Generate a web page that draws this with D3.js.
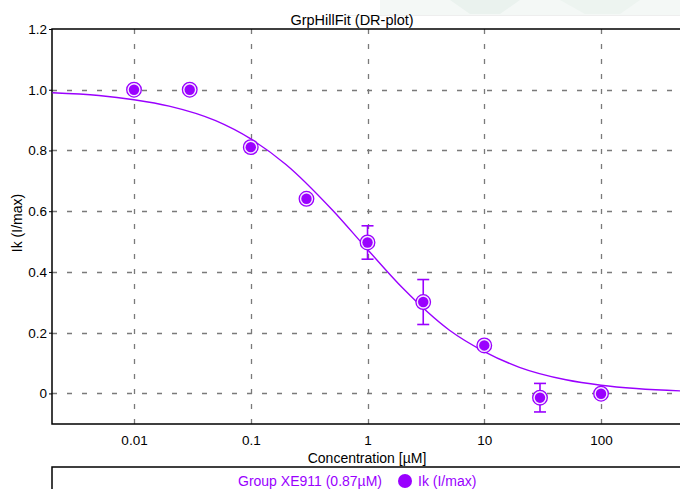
<!DOCTYPE html>
<html><head><meta charset="utf-8">
<script src="https://cdn.jsdelivr.net/npm/d3@7/dist/d3.min.js"></script>
<style>
html,body{margin:0;padding:0;background:#fff;overflow:hidden;}
svg{display:block;font-family:"Liberation Sans",Arial,sans-serif;}
</style></head>
<body>
<svg id="chart" width="680" height="489"></svg>
<script>
// ---- data ----
const title = "GrpHillFit (DR-plot)";
const xLabel = "Concentration [\u00b5M]";
const yLabel = "Ik (I/max)";
const legendGroup = "Group XE911 (0.87\u00b5M)";
const legendSeries = "Ik (I/max)";
const concentrations = [0.01, 0.03, 0.1, 0.3, 1, 3, 10, 30, 100];
const ikValues = [1.0, 1.0, 0.811, 0.641, 0.497, 0.301, 0.158, -0.014, -0.001];
const ikErrors = [0, 0, 0.015, 0, 0.055, 0.074, 0, 0.047, 0];
// fitted curve
const fitX = [0.002, 0.005, 0.01, 0.02, 0.05, 0.1, 0.2, 0.5, 1, 2, 5, 10, 20, 50, 100, 200, 500, 1000];
const fitY = [0.990, 0.981, 0.967, 0.946, 0.898, 0.838, 0.754, 0.604, 0.474, 0.347, 0.209, 0.138, 0.086, 0.045, 0.027, 0.016, 0.008, 0.005];
const xTicks = [0.01, 0.1, 1, 10, 100];
const xTickLabels = ["0.01", "0.1", "1", "10", "100"];
const yTicks = [0, 0.2, 0.4, 0.6, 0.8, 1.0, 1.2];
const yTickLabels = ["0", "0.2", "0.4", "0.6", "0.8", "1.0", "1.2"];

(function () {
const purple = "#9a00ff";
const svg = d3.select("#chart");

// faint background watermark at top right
svg.append("rect").attr("x", 380).attr("y", 0).attr("width", 300).attr("height", 15).attr("fill", "#f4f8f6");
svg.append("path").attr("d", "M450,0 L520,0 L500,14 L470,14 Z").attr("fill", "#eaf2ee");
svg.append("path").attr("d", "M560,0 L640,0 L620,14 L585,14 Z").attr("fill", "#edf4f0");
svg.append("line").attr("x1", 340).attr("x2", 680).attr("y1", 15.5).attr("y2", 15.5).attr("stroke", "#eeeeee");

const x = d3.scaleLog().domain([0.002, 1000]).range([52.4, 717.8]);
const y = d3.scaleLinear().domain([-0.1, 1.2]).range([423.8, 29]);
const pL = 52, pT = 29, pB = 424, pR = 720;

// grid
const grid = svg.append("g").attr("stroke", "#7a7a7a").attr("stroke-width", 1.3).attr("stroke-dasharray", "5,10");
grid.selectAll("line.v").data(xTicks).join("line")
  .attr("x1", d => Math.round(x(d)) + 0.5).attr("x2", d => Math.round(x(d)) + 0.5)
  .attr("y1", pT).attr("y2", pB);
grid.selectAll("line.h").data(yTicks.filter(d => d < 1.2)).join("line")
  .attr("x1", pL).attr("x2", pR)
  .attr("y1", d => Math.round(y(d)) + 0.5).attr("y2", d => Math.round(y(d)) + 0.5);

// axes frame
svg.append("path").attr("d", `M${pR},${pT} H${pL} V${pB} H${pR}`)
  .attr("fill", "none").attr("stroke", "#000").attr("stroke-width", 1.5);

// y axis via d3 axis
const yAxis = d3.axisLeft(y).tickValues(yTicks).tickSize(3).tickPadding(2)
  .tickFormat((d, i) => yTickLabels[i]);
const gy = svg.append("g").attr("transform", `translate(${pL},0)`).call(yAxis);
gy.select(".domain").remove();
gy.selectAll("text").attr("font-size", 13.5).attr("fill", "#000").attr("font-family", "Liberation Sans, Arial, sans-serif");
gy.selectAll("line").attr("stroke", "#000");

// x axis labels via d3 axis
const xAxis = d3.axisBottom(x).tickValues(xTicks).tickSize(0).tickPadding(11)
  .tickFormat((d, i) => xTickLabels[i]);
const gx = svg.append("g").attr("transform", `translate(0,${pB})`).call(xAxis);
gx.select(".domain").remove();
gx.selectAll("text").attr("font-size", 13.5).attr("fill", "#000").attr("font-family", "Liberation Sans, Arial, sans-serif");

// titles
svg.append("text").attr("x", 352).attr("y", 25).attr("text-anchor", "middle")
  .attr("font-size", 14.5).text(title);
svg.append("text").attr("x", 367).attr("y", 463).attr("text-anchor", "middle")
  .attr("font-size", 14).text(xLabel);
svg.append("text").attr("transform", "translate(22,223) rotate(-90)").attr("text-anchor", "middle")
  .attr("font-size", 14).text(yLabel);

// clip
svg.append("clipPath").attr("id", "clip").append("rect")
  .attr("x", pL).attr("y", pT).attr("width", pR - pL).attr("height", pB - pT);

// fit curve
const line = d3.line().x((d, i) => x(fitX[i])).y(d => y(d)).curve(d3.curveMonotoneX);
svg.append("path").datum(fitY).attr("d", line).attr("fill", "none")
  .attr("stroke", purple).attr("stroke-width", 1.4).attr("clip-path", "url(#clip)");

// error bars
const pts = concentrations.map((c, i) => ({c, v: ikValues[i], e: ikErrors[i]}));
const eb = svg.append("g").attr("stroke", purple).attr("stroke-width", 1.6);
pts.filter(d => d.e > 0).forEach(d => {
  const cx = x(d.c), y1 = y(d.v + d.e), y2 = y(d.v - d.e);
  eb.append("line").attr("x1", cx).attr("x2", cx).attr("y1", y1).attr("y2", y2);
  eb.append("line").attr("x1", cx - 6).attr("x2", cx + 6).attr("y1", y1).attr("y2", y1);
  eb.append("line").attr("x1", cx - 6).attr("x2", cx + 6).attr("y1", y2).attr("y2", y2);
});

// markers
const mk = svg.append("g");
mk.selectAll("circle.o").data(pts).join("circle")
  .attr("cx", d => x(d.c)).attr("cy", d => y(d.v)).attr("r", 7.3)
  .attr("fill", "#f6e8ff").attr("stroke", purple).attr("stroke-width", 1.3);
mk.selectAll("circle.i").data(pts).join("circle")
  .attr("cx", d => x(d.c)).attr("cy", d => y(d.v)).attr("r", 5.2)
  .attr("fill", purple);

// legend box
svg.append("rect").attr("x", 52).attr("y", 467).attr("width", 700).attr("height", 40)
  .attr("fill", "#fff").attr("stroke", "#000").attr("stroke-width", 1.5);
svg.append("text").attr("x", 382).attr("y", 486).attr("text-anchor", "end")
  .attr("font-size", 14).attr("fill", purple).text(legendGroup);
svg.append("circle").attr("cx", 405).attr("cy", 481).attr("r", 7).attr("fill", purple);
svg.append("text").attr("x", 418).attr("y", 486)
  .attr("font-size", 14).attr("fill", purple).text(legendSeries);
})();
</script>
</body></html>
